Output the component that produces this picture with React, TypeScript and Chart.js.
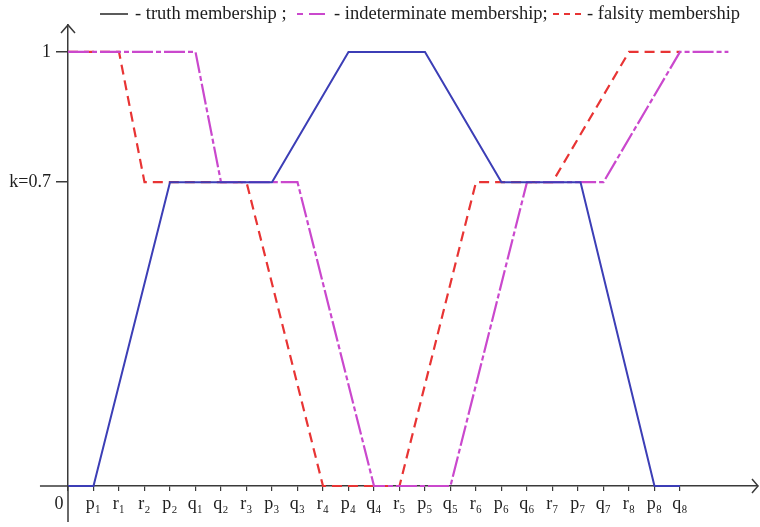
import React, { useEffect, useRef } from 'react';
import { Chart, registerables } from 'chart.js';
Chart.register(...registerables);

// x-axis tick labels (positions 0..24)
const tickLabels = ['0\u2003', 'p₁', 'r₁', 'r₂', 'p₂', 'q₁', 'q₂', 'r₃', 'p₃', 'q₃', 'r₄', 'p₄', 'q₄', 'r₅', 'p₅', 'q₅', 'r₆', 'p₆', 'q₆', 'r₇', 'p₇', 'q₇', 'r₈', 'p₈', 'q₈'];
const tickPositions = [0, 1, 2, 3, 4, 5, 6, 7, 8, 9, 10, 11, 12, 13, 14, 15, 16, 17, 18, 19, 20, 21, 22, 23, 24];

const yTickValues = [0.7, 1];
const yTickLabels = ['k=0.7', '1'];

// truth membership
const truthX = [0, 1, 4, 8, 11, 14, 17, 20.1, 23, 24];
const truthY = [0, 0, 0.7, 0.7, 1, 1, 0.7, 0.7, 0, 0];
// indeterminate membership
const indetX = [0, 5, 6, 9, 12, 15, 18, 21, 24, 25.9];
const indetY = [1, 1, 0.7, 0.7, 0, 0, 0.7, 0.7, 1, 1];
// falsity membership
const falsX = [0, 2, 3, 7, 10, 13, 16, 19, 22, 24];
const falsY = [1, 1, 0.7, 0.7, 0, 0, 0.7, 0.7, 1, 1];

const legendTexts = ['- truth membership ;', '- indeterminate membership;', '- falsity membership'];

const BLUE = 'rgb(60,62,182)';
const RED = 'rgb(232,52,52)';
const MAGENTA = 'rgb(202,72,205)';
const AXIS = '#3a3a3a';
const FONT = '"Liberation Serif", "Times New Roman", serif';

const pts = (xs: number[], ys: number[]) => xs.map((x, i) => ({ x, y: ys[i] }));

const axesPlugin = {
  id: 'axesExt',
  afterDraw(chart: any) {
    const { ctx } = chart;
    const xs = chart.scales.x;
    const ys = chart.scales.y;
    const x0 = xs.getPixelForValue(0);
    const y0 = ys.getPixelForValue(0);
    const xLeft = xs.getPixelForValue(-1.1);
    const yLow = ys.getPixelForValue(-0.083);
    const xTip = xs.getPixelForValue(xs.max);
    const yTip = ys.getPixelForValue(ys.max);
    ctx.save();
    ctx.strokeStyle = AXIS;
    ctx.lineWidth = 1.5;
    ctx.setLineDash([]);
    ctx.beginPath();
    ctx.moveTo(xLeft, y0);
    ctx.lineTo(x0, y0);
    ctx.moveTo(x0, y0);
    ctx.lineTo(x0, yLow);
    // arrows
    ctx.moveTo(xTip - 6, y0 - 7);
    ctx.lineTo(xTip, y0);
    ctx.lineTo(xTip - 6, y0 + 7);
    ctx.moveTo(x0 - 7, yTip + 8);
    ctx.lineTo(x0, yTip);
    ctx.lineTo(x0 + 7, yTip + 8);
    ctx.stroke();

    // legend
    ctx.font = `18.5px ${FONT}`;
    ctx.fillStyle = '#1e1e1e';
    ctx.textBaseline = 'alphabetic';
    const ly = 14;
    ctx.lineWidth = 1.6;
    ctx.strokeStyle = '#333';
    ctx.beginPath();
    ctx.moveTo(100, ly);
    ctx.lineTo(128, ly);
    ctx.stroke();
    ctx.fillText(legendTexts[0], 135, 19);

    ctx.strokeStyle = MAGENTA;
    ctx.lineWidth = 2;
    ctx.setLineDash([6, 6, 16, 100]);
    ctx.beginPath();
    ctx.moveTo(297, ly);
    ctx.lineTo(325, ly);
    ctx.stroke();
    ctx.setLineDash([]);
    ctx.fillText(legendTexts[1], 334, 19);

    ctx.strokeStyle = RED;
    ctx.setLineDash([6, 5]);
    ctx.beginPath();
    ctx.moveTo(553, ly);
    ctx.lineTo(581, ly);
    ctx.stroke();
    ctx.setLineDash([]);
    ctx.fillText(legendTexts[2], 587, 19);
    ctx.restore();
  },
};

export default function App() {
  const ref = useRef<HTMLCanvasElement | null>(null);
  useEffect(() => {
    if (!ref.current) return;
    const chart = new Chart(ref.current, {
      type: 'line',
      data: {
        datasets: [
          {
            label: 'truth membership',
            data: pts(truthX, truthY),
            borderColor: BLUE,
            borderWidth: 2,
            pointRadius: 0,
            tension: 0,
            order: 0,
            clip: false as any,
          },
          {
            label: 'indeterminate membership',
            data: pts(indetX, indetY),
            borderColor: MAGENTA,
            borderWidth: 2.2,
            borderDash: [21, 3, 5, 3],
            pointRadius: 0,
            tension: 0,
            order: 1,
            clip: false as any,
          },
          {
            label: 'falsity membership',
            data: pts(falsX, falsY),
            borderColor: RED,
            borderWidth: 2.2,
            borderDash: [10, 6],
            pointRadius: 0,
            tension: 0,
            order: 2,
            clip: false as any,
          },
        ],
      },
      options: {
        animation: false,
        responsive: false,
        layout: { padding: { top: 25, right: 2, left: 0, bottom: 0 } },
        plugins: { legend: { display: false }, tooltip: { enabled: false } },
        scales: {
          x: {
            type: 'linear',
            min: 0,
            max: 27.06,
            afterBuildTicks: (s: any) => {
              s.ticks = tickPositions.map((v) => ({ value: v }));
            },
            afterFit: (s: any) => {
              s.height = 41;
            },
            ticks: {
              autoSkip: false,
              maxRotation: 0,
              padding: 2,
              color: '#222',
              font: { family: FONT, size: 18 },
              callback: (v: any) => tickLabels[Math.round(Number(v))] ?? '',
            },
            grid: { drawOnChartArea: false, drawTicks: true, tickLength: 5, color: AXIS, lineWidth: 1.2 },
            border: { display: true, color: AXIS, width: 1.5 },
          },
          y: {
            type: 'linear',
            min: 0,
            max: 1.062,
            afterBuildTicks: (s: any) => {
              s.ticks = yTickValues.map((v) => ({ value: v }));
            },
            afterFit: (s: any) => {
              s.width = 68;
            },
            ticks: {
              padding: 5,
              color: '#1e1e1e',
              font: { family: FONT, size: 18 },
              callback: (v: any) => {
                const i = yTickValues.findIndex((t) => Math.abs(t - Number(v)) < 1e-6);
                return i >= 0 ? yTickLabels[i] : '';
              },
            },
            grid: { drawOnChartArea: false, drawTicks: true, tickLength: 12, color: AXIS, lineWidth: 1.5 },
            border: { display: true, color: AXIS, width: 1.5 },
          },
        },
      },
      plugins: [axesPlugin],
    } as any);
    return () => chart.destroy();
  }, []);
  return (
    <div style={{ position: 'fixed', left: 0, top: 0, width: 760, height: 527, background: '#fff' }}>
      <canvas ref={ref} width={760} height={527} style={{ display: 'block' }} />
    </div>
  );
}
